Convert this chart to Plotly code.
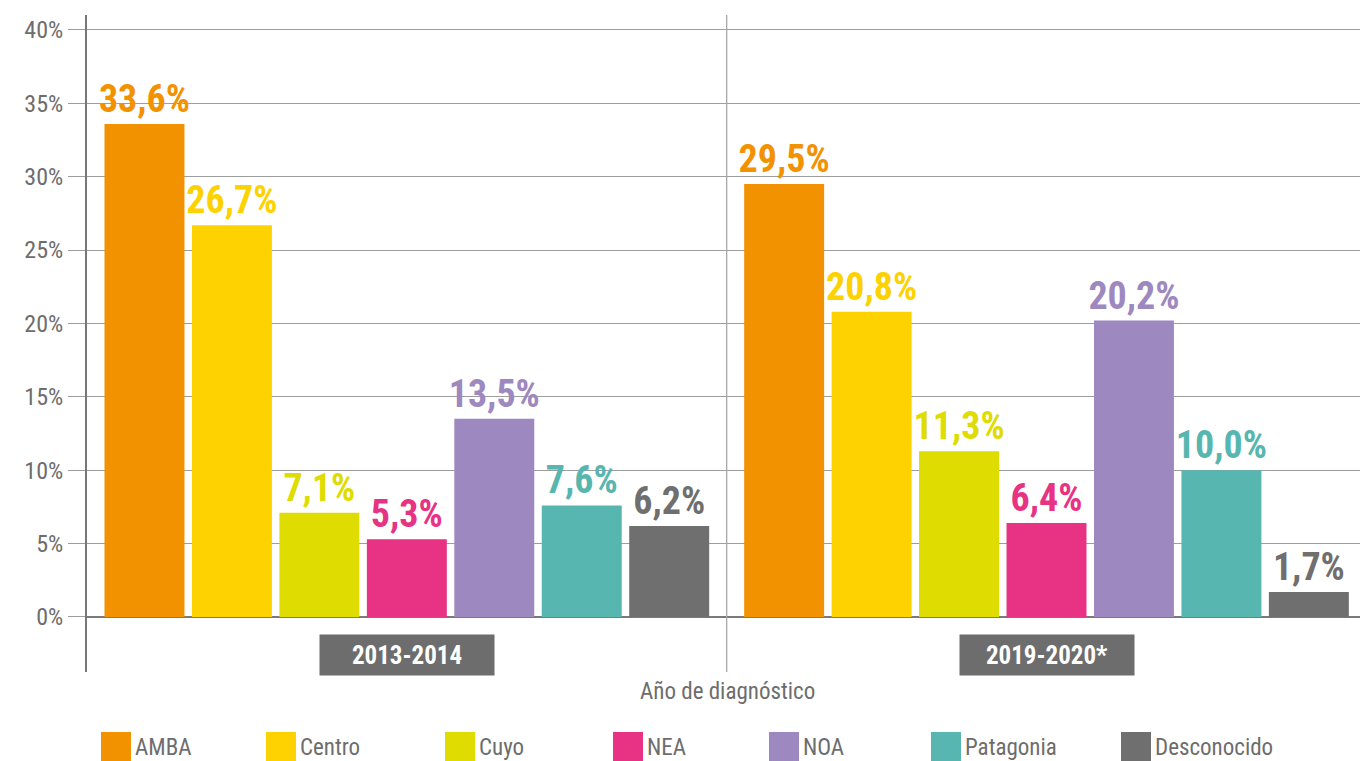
import plotly.graph_objects as go

# ---- data ----
periods = ["2013-2014", "2019-2020*"]
regions = ["AMBA", "Centro", "Cuyo", "NEA", "NOA", "Patagonia", "Desconocido"]
values_2013_2014 = [33.6, 26.7, 7.1, 5.3, 13.5, 7.6, 6.2]
values_2019_2020 = [29.5, 20.8, 11.3, 6.4, 20.2, 10.0, 1.7]
y_ticks = [0, 5, 10, 15, 20, 25, 30, 35, 40]
y_tick_labels = ["%d%%" % v for v in y_ticks]
x_title = "Año de diagnóstico"

# ---- styles ----
colors = ["#F39200", "#FDD200", "#DEDC00", "#E83283", "#9D88BF", "#57B6B0", "#706F6F"]
FONT = "Roboto Condensed, Roboto, sans-serif"
GRAY_TXT = "#6d6d6d"
OFF = 8  # default page body margin
W, H = 1368 - OFF, 761 - OFF
ML, MR, MT, MB = 87 - OFF, 1, 15 - OFF, 89
PW, PH = W - ML - MR, H - MT - MB

def px_x(p):  # page pixel -> paper x
    return (p - OFF - ML) / PW

def px_y(p):  # page pixel -> paper y
    return (OFF + H - MB - p) / PH

fig = go.Figure()
for i, reg in enumerate(regions):
    fig.add_trace(go.Bar(
        x=periods,
        y=[values_2013_2014[i], values_2019_2020[i]],
        name=reg,
        marker=dict(color=colors[i], line=dict(width=0)),
        texttemplate="%{y:.1f}%",
        textposition="outside",
        constraintext="none",
        cliponaxis=False,
        textangle=0,
        textfont=dict(family=FONT, size=38, color=colors[i], weight="bold"),
        hoverinfo="skip",
    ))

# separators between / after the groups
shapes = []
for k in range(1, len(periods) + 1):
    shapes.append(dict(type="line", xref="x", yref="paper",
                       x0=k - 0.5, x1=k - 0.5, y0=0, y1=1,
                       line=dict(color="#a8a8a8", width=1.3), layer="above"))

annotations = []
# category boxes
for p in periods:
    annotations.append(dict(x=p, xref="x", y=px_y(655), yref="paper",
                            text="<b>%s</b>" % p, showarrow=False,
                            font=dict(family=FONT, size=25, color="white"),
                            bgcolor="#6d6d6d", width=174, height=40,
                            borderpad=0, xanchor="center", yanchor="middle"))
# axis title
annotations.append(dict(x=0.5, xref="paper", y=px_y(691), yref="paper",
                        text=x_title, showarrow=False,
                        font=dict(family=FONT, size=23, color=GRAY_TXT),
                        xanchor="center", yanchor="middle"))

# manual legend
legend_x = [101, 266, 445, 613, 769, 931, 1121]
for i, reg in enumerate(regions):
    shapes.append(dict(type="rect", xref="paper", yref="paper",
                       x0=px_x(legend_x[i]), x1=px_x(legend_x[i] + 30),
                       y0=px_y(763), y1=px_y(732),
                       fillcolor=colors[i], line=dict(width=0)))
    annotations.append(dict(x=px_x(legend_x[i] + 32), xref="paper",
                            y=px_y(747), yref="paper", text=reg,
                            showarrow=False, xanchor="left", yanchor="middle",
                            font=dict(family=FONT, size=23, color=GRAY_TXT)))

fig.update_layout(
    width=W, height=H, autosize=False,
    margin=dict(l=ML, r=MR, t=MT, b=MB, pad=0),
    paper_bgcolor="white", plot_bgcolor="white",
    barmode="group", bargap=0.043, bargroupgap=0.0857,
    separators=",.",
    showlegend=False,
    shapes=shapes, annotations=annotations,
    font=dict(family=FONT, color=GRAY_TXT),
)
fig.update_xaxes(showticklabels=False, showgrid=False, zeroline=False,
                 showline=False, ticks="", fixedrange=True)
fig.update_yaxes(range=[-3.75, 41.02], tickmode="array",
                 tickvals=y_ticks, ticktext=y_tick_labels,
                 showgrid=True, gridcolor="#9d9d9d", gridwidth=1.2,
                 ticks="outside", ticklen=17, tickcolor="#9d9d9d", tickwidth=1.2,
                 zeroline=True, zerolinecolor="#7a7a7a", zerolinewidth=2,
                 showline=True, linecolor="#777777", linewidth=2,
                 tickfont=dict(family=FONT, size=24, color=GRAY_TXT),
                 fixedrange=True)

fig.write_html("out.html")
